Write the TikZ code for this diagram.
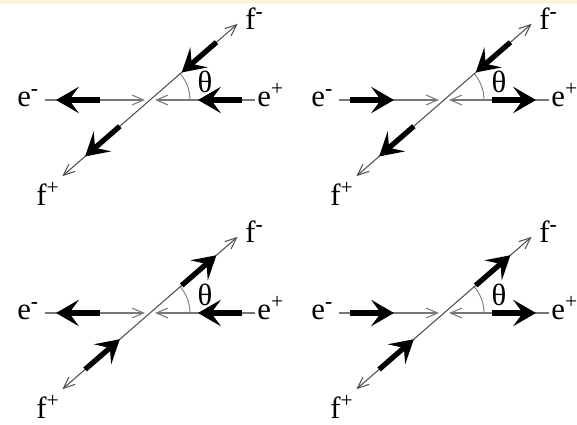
\documentclass[tikz,border=0pt]{standalone}
\usepackage{fontspec}
\setmainfont{Liberation Serif}
\usepackage{xcolor}
\definecolor{slidebg}{RGB}{249,247,222}
\definecolor{beamline}{RGB}{120,120,120}
\definecolor{outline}{RGB}{80,80,80}
\usepackage{tikz}
\usetikzlibrary{
    arrows.meta,
    calc
}

\tikzset{
    lbl/.style={font=\fontsize{17.5}{20}\selectfont, inner sep=0pt},
    track/.style={line width=0.6pt},
    spinarrow/.style={line width=3pt, -{Stealth[length=13pt,width=15pt,inset=5.5pt]}},
    thinhead/.style={-{Straight Barb[length=6.5pt,width=5.5pt]}}
}

\begin{document}
\begin{tikzpicture}[x=0.02cm, y=0.02cm]
        % Fond
        \useasboundingbox (0,0) rectangle (577,425);
        \fill[white] (0,0) rectangle (577,425);
        \fill[slidebg] (0,421) rectangle (577,425);

        % Quatre configurations d'helicite
        \foreach \px/\py/\se/\sf/\n in {150/325/-1/-1/a, 444/325/1/-1/b, 150/112/-1/1/c, 444/112/1/1/d} {
        \begin{scope}[shift={(\px,\py)}]
            \coordinate (\n c) at (0,0);
            \coordinate (\n w) at (-105,0);
            \coordinate (\n e) at (105,0);
            \coordinate (\n il) at (-5,0);
            \coordinate (\n ir) at (5,0);
            \coordinate (\n ne) at (41:116);
            \coordinate (\n sw) at (221:116);

            % Faisceaux et traces
            \draw[track, beamline, thinhead] (\n w) -- (\n il);
            \draw[track, beamline, thinhead] (\n e) -- (\n ir);
            \draw[track, outline, {Straight Barb[length=6.5pt,width=5.5pt]}-{Straight Barb[length=6.5pt,width=5.5pt]}] (\n sw) -- (\n ne);
            \draw[beamline, line width=0.5pt] (40,0) arc (0:41:40);

            % Spins
            \draw[spinarrow] ({-72-\se*22},0) -- ({-72+\se*22},0);
            \draw[spinarrow] ({70-\se*22},0) -- ({70+\se*22},0);
            \draw[spinarrow] (41:{65-\sf*23}) -- (41:{65+\sf*23});
            \draw[spinarrow] (221:{63+\sf*23}) -- (221:{63-\sf*23});

            % Labels
            \node[lbl, anchor=base west] (\n em) at (-133,-7) {e\textsuperscript{\textbf{-}}};
            \node[lbl, anchor=base west] (\n ep) at (107,-7) {e\textsuperscript{+}};
            \node[lbl, anchor=base west] (\n fm) at (95,70) {f\textsuperscript{\textbf{-}}};
            \node[lbl, anchor=base west] (\n fp) at (-114,-106) {f\textsuperscript{+}};
            \node[lbl] (\n th) at (55,18) {θ};
        \end{scope}
        }
    \end{tikzpicture}
\end{document}
